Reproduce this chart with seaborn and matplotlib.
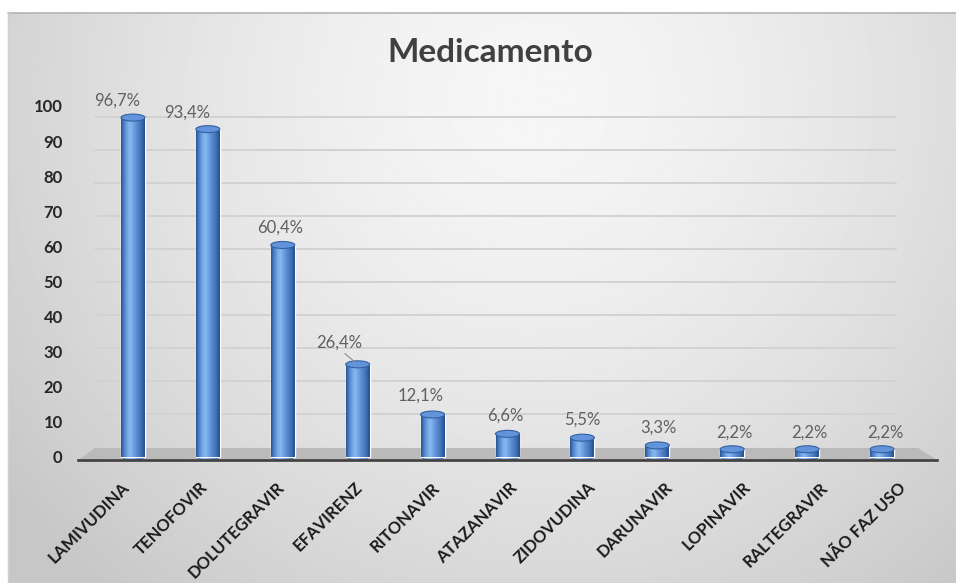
import numpy as np
import pandas as pd
import matplotlib
matplotlib.use("Agg")
import matplotlib.pyplot as plt
import seaborn as sns
from matplotlib.patches import Ellipse, Polygon
from matplotlib.colors import LinearSegmentedColormap
from matplotlib.transforms import ScaledTranslation
from matplotlib.lines import Line2D

# ---- data -------------------------------------------------------------
medicamentos = ["LAMIVUDINA", "TENOFOVIR", "DOLUTEGRAVIR", "EFAVIRENZ", "RITONAVIR",
                "ATAZANAVIR", "ZIDOVUDINA", "DARUNAVIR", "LOPINAVIR", "RALTEGRAVIR",
                "NÃO FAZ USO"]
percentuais = [96.7, 93.4, 60.4, 26.4, 12.1, 6.6, 5.5, 3.3, 2.2, 2.2, 2.2]
marcas_y = [0, 10, 20, 30, 40, 50, 60, 70, 80, 90, 100]
titulo = "Medicamento"

# value-label nudges in pixels (dx, dy above the bar top)
nudges_rotulos = [(-16, 17), (-21, 17), (-3, 17), (-19, 22), (-12, 19), (-2, 18),
                  (0, 18), (1, 18), (2, 17), (2, 17), (3, 17)]

sns.set_theme(style="white")
plt.rcParams["font.family"] = ["Lato", "DejaVu Sans"]

W, H, DPI = 956, 583, 100
fig = plt.figure(figsize=(W / DPI, H / DPI), dpi=DPI)
fig.patch.set_facecolor("white")


def fx(px):
    return px / W


def fy(py):
    return 1 - py / H


# ---- chart area background: soft radial gray gradient -----------------
left_px, top_px = 8, 13
bg = fig.add_axes([fx(left_px), 0, (W - left_px) / W, (H - top_px) / H])
vv, uu = np.mgrid[0:1:300j, 0:1:500j]
dist = np.sqrt(((uu - 0.55) / 0.6) ** 2 + ((vv - 0.15) / 1.0) ** 2)
shade = 0.965 - 0.15 * np.clip(dist, 0, 1.15) ** 1.5
bg.imshow(shade, cmap="gray", vmin=0, vmax=1, extent=(0, 1, 0, 1),
          aspect="auto", interpolation="bilinear")
bg.set_xlim(0, 1)
bg.set_ylim(0, 1)
bg.axis("off")
fig.add_artist(Line2D([fx(left_px), 1], [fy(top_px), fy(top_px)],
                      color="#b4b4b4", lw=1.2))
fig.add_artist(Line2D([fx(left_px), fx(left_px)], [0, fy(top_px)],
                      color="#d0d0d0", lw=1.0))

# ---- plot axes --------------------------------------------------------
ax_l, ax_r, ax_t, ax_b = 78, 937, 106, 460
ax = fig.add_axes([fx(ax_l), 1 - ax_b / H, (ax_r - ax_l) / W, (ax_b - ax_t) / H])
ax.patch.set_alpha(0)

y_min, y_max = -0.855, 100
px_per_unit = (ax_b - ax_t) / (y_max - y_min)

df = pd.DataFrame({"Medicamento": medicamentos, "Percentual": percentuais})
sns.barplot(data=df, x="Medicamento", y="Percentual", order=medicamentos,
            color="#4f84cc", saturation=1, width=0.32, errorbar=None,
            ax=ax, zorder=3)
barras = list(ax.patches)

# floor of the 3-D plot area
floor = Polygon([(0, 0), (1, 0), (0.978, 0.034), (0.0198, 0.034)], closed=True,
                transform=ax.transAxes, facecolor="#bababa", edgecolor="none",
                zorder=1.5)
ax.add_patch(floor)

# back-wall gridlines (compressed by the perspective)
g0, gk = 2.85, 0.9402
for m in marcas_y[1:]:
    ax.axhline(g0 + gk * m, xmin=0.0198, xmax=0.952, color="#d2d2d2",
               lw=1.4, zorder=1)

# cylinder shading
cyl_cmap = LinearSegmentedColormap.from_list(
    "cyl",
    [(0.0, "#29508c"), (0.12, "#4a7fc7"), (0.3, "#7cadea"), (0.4, "#88b7ee"),
     (0.62, "#5e91d8"), (0.86, "#3d6cb1"), (1.0, "#264d8a")])
ramp = np.linspace(0, 1, 256)[None, :]
cap_h = 7 / px_per_unit

for p in barras:
    x0, w, h = p.get_x(), p.get_width(), p.get_height()
    cx = x0 + w / 2
    # rounded base
    base = Ellipse((cx, 0), w, cap_h, transform=ax.transData,
                   facecolor="none", edgecolor="none", zorder=2.9)
    ax.add_patch(base)
    im_b = ax.imshow(ramp, cmap=cyl_cmap, extent=(x0, x0 + w, -cap_h / 2, cap_h / 2),
                     aspect="auto", interpolation="bilinear", zorder=2.9)
    im_b.set_clip_path(base)
    # body
    im = ax.imshow(ramp, cmap=cyl_cmap, extent=(x0, x0 + w, 0, h),
                   aspect="auto", interpolation="bilinear", zorder=3.1)
    im.set_clip_path(p)
    # top cap
    ax.add_patch(Ellipse((cx, h), w, cap_h, facecolor="#6394db",
                         edgecolor="#33609f", lw=0.8, zorder=3.3))

# value labels
for i, (v, (dx, dy)) in enumerate(zip(percentuais, nudges_rotulos)):
    texto = f"{v:.1f}".replace(".", ",") + "%"
    kw = {}
    if i == 3:
        kw["arrowprops"] = dict(arrowstyle="-", color="#8c8c8c", lw=0.8,
                                shrinkA=0, shrinkB=3, relpos=(0.55, 0.0))
    ax.annotate(texto, xy=(i, v), xytext=(dx, dy), textcoords="offset pixels",
                ha="center", va="center", fontsize=12, color="#606060",
                zorder=5, **kw)

ax.set_xlim(-0.734, len(medicamentos) - 1 + 0.734)
ax.set_ylim(y_min, y_max)

# axes, ticks
for s in ["top", "right", "left"]:
    ax.spines[s].set_visible(False)
ax.spines["bottom"].set_color("#3f3f3f")
ax.spines["bottom"].set_linewidth(1.9)
ax.spines["bottom"].set_zorder(4)

ax.set_xlabel("")
ax.set_ylabel("")
ax.set_yticks(marcas_y)
ax.set_yticklabels([str(m) for m in marcas_y], fontsize=12,
                   fontweight="bold", color="#262626")
ax.tick_params(axis="y", length=0, pad=11)

ax.set_xticks(range(len(medicamentos)))
ax.set_xticklabels(medicamentos, rotation=45, ha="right", va="center",
                   rotation_mode="anchor", fontsize=12, fontweight="bold",
                   color="#1a1a1a")
ax.tick_params(axis="x", length=0, pad=18)
for i, lab in enumerate(ax.get_xticklabels()):
    shift = (-6 + 2.7 * i) / DPI
    lab.set_transform(lab.get_transform() +
                      ScaledTranslation(shift, 0, fig.dpi_scale_trans))

fig.text(fx(490), fy(53), titulo, ha="center", va="center", fontsize=24,
         fontweight="bold", color="#404040")

fig.savefig("out.png", dpi=DPI)
